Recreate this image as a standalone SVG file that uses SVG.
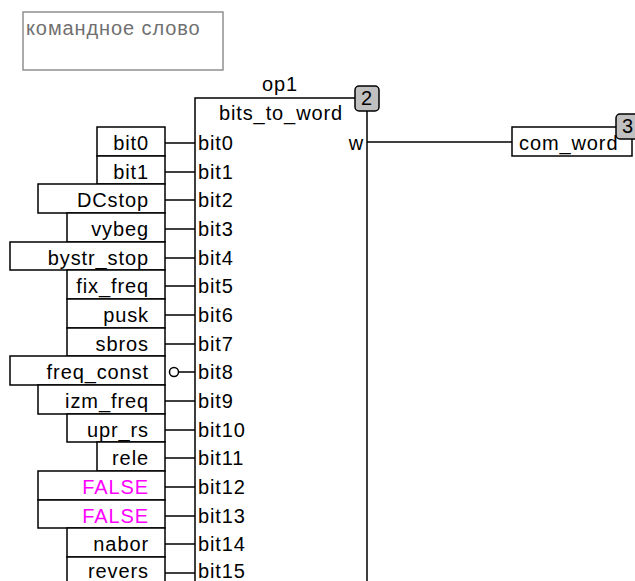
<svg xmlns="http://www.w3.org/2000/svg" width="635" height="581" viewBox="0 0 635 581">
<style>
.bg{fill:#ffffff}
.box{fill:#ffffff;stroke:#000000;stroke-width:1.5}
.wire{stroke:#000000;stroke-width:1.5;fill:none}
.t{font-family:"Liberation Sans",Arial,sans-serif;font-size:20px;fill:#000000;letter-spacing:0.9px}
.r{text-anchor:end}
.c{text-anchor:middle}
.const{fill:#ff00ff}
.badge{fill:#c0c0c0;stroke:#000000;stroke-width:1.5}
.cmt{fill:#ffffff;stroke:#909090;stroke-width:1.5}
.cmtt{font-family:"Liberation Sans",Arial,sans-serif;font-size:20px;fill:#707070;letter-spacing:0.9px}
</style>
<rect class="bg" x="0" y="0" width="635" height="581"/>

<g id="comment">
<rect class="cmt" x="23" y="12" width="200" height="58"/>
<text class="cmtt" x="26" y="35">командное слово</text>
</g>

<g id="op1">
<rect class="box" x="195" y="98" width="172" height="500"/>
<text class="t c" x="280" y="91">op1</text>
<text class="t c" x="281" y="120">bits_to_word</text>
<rect class="badge" x="355" y="86" width="24" height="25" rx="4"/>
<text class="t c" x="367" y="105">2</text>
<text class="t" x="198" y="150">bit0</text>
<text class="t" x="198" y="179">bit1</text>
<text class="t" x="198" y="207">bit2</text>
<text class="t" x="198" y="236">bit3</text>
<text class="t" x="198" y="265">bit4</text>
<text class="t" x="198" y="293">bit5</text>
<text class="t" x="198" y="322">bit6</text>
<text class="t" x="198" y="351">bit7</text>
<text class="t" x="198" y="379">bit8</text>
<text class="t" x="198" y="408">bit9</text>
<text class="t" x="198" y="437">bit10</text>
<text class="t" x="198" y="465">bit11</text>
<text class="t" x="198" y="494">bit12</text>
<text class="t" x="198" y="523">bit13</text>
<text class="t" x="198" y="551">bit14</text>
<text class="t" x="198" y="578">bit15</text>
<text class="t r" x="364" y="150">w</text>
</g>

<g id="in_bit0"><rect class="box" x="97" y="127" width="68" height="29"/><text class="t r" x="149" y="150">bit0</text></g>
<g id="in_bit1"><rect class="box" x="97" y="156" width="68" height="28"/><text class="t r" x="149" y="179">bit1</text></g>
<g id="in_DCstop"><rect class="box" x="38" y="184" width="127" height="29"/><text class="t r" x="149" y="207">DCstop</text></g>
<g id="in_vybeg"><rect class="box" x="67" y="213" width="98" height="29"/><text class="t r" x="149" y="236">vybeg</text></g>
<g id="in_bystr_stop"><rect class="box" x="10" y="242" width="155" height="28"/><text class="t r" x="149" y="265">bystr_stop</text></g>
<g id="in_fix_freq"><rect class="box" x="67" y="270" width="98" height="29"/><text class="t r" x="149" y="293">fix_freq</text></g>
<g id="in_pusk"><rect class="box" x="67" y="299" width="98" height="29"/><text class="t r" x="149" y="322">pusk</text></g>
<g id="in_sbros"><rect class="box" x="67" y="328" width="98" height="28"/><text class="t r" x="149" y="351">sbros</text></g>
<g id="in_freq_const"><rect class="box" x="10" y="356" width="155" height="29"/><text class="t r" x="149" y="379">freq_const</text></g>
<g id="in_izm_freq"><rect class="box" x="38" y="385" width="127" height="29"/><text class="t r" x="149" y="408">izm_freq</text></g>
<g id="in_upr_rs"><rect class="box" x="67" y="414" width="98" height="28"/><text class="t r" x="149" y="437">upr_rs</text></g>
<g id="in_rele"><rect class="box" x="97" y="442" width="68" height="29"/><text class="t r" x="149" y="465">rele</text></g>
<g id="in_FALSE12"><rect class="box" x="38" y="471" width="127" height="29"/><text class="t r const" x="149" y="494">FALSE</text></g>
<g id="in_FALSE13"><rect class="box" x="38" y="500" width="127" height="28"/><text class="t r const" x="149" y="523">FALSE</text></g>
<g id="in_nabor"><rect class="box" x="67" y="528" width="98" height="29"/><text class="t r" x="149" y="551">nabor</text></g>
<g id="in_revers"><rect class="box" x="67" y="557" width="98" height="40"/><text class="t r" x="149" y="578">revers</text></g>

<g id="out_com_word">
<rect class="box" x="512" y="127" width="120" height="29"/>
<text class="t" x="519" y="150">com_word</text>
<rect class="badge" x="616" y="114" width="24" height="25" rx="4"/>
<text class="t" x="622" y="133">3</text>
</g>

<g id="connectors">
<path class="wire" d="M165,143H195M165,172H195M165,200H195M165,229H195M165,258H195M165,286H195M165,315H195M165,344H195M179,372H195M165,401H195M165,430H195M165,458H195M165,487H195M165,516H195M165,544H195M165,573H195"/>
<circle class="box" cx="174" cy="372" r="4.5"/>
<path class="wire" d="M367,142H512"/>
</g>
</svg>
